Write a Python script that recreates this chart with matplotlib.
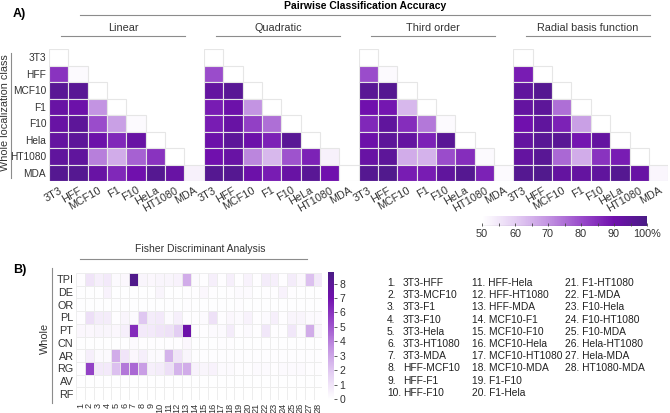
import numpy as np
import matplotlib
matplotlib.use('Agg')
import matplotlib.pyplot as plt
from matplotlib.colors import LinearSegmentedColormap, Normalize
from matplotlib.patches import Rectangle
from matplotlib.cm import ScalarMappable

plt.rcParams['font.family'] = ['Liberation Sans', 'DejaVu Sans']

# ---- data ----
cells = ['3T3', 'HFF', 'MCF10', 'F1', 'F10', 'Hela', 'HT1080', 'MDA']
cells_x = ['3T3', 'HFF', 'MCF10', 'F1', 'F10', 'HeLa', 'HT1080', 'MDA']
kernels = ['Linear', 'Quadratic', 'Third order', 'Radial basis function']

# lower triangle rows incl. diagonal (accuracy, %)
linear = [[50],
          [84, 51],
          [96, 96, 50],
          [92, 91, 70, 50],
          [92, 95, 80, 68, 51],
          [93, 95, 91, 86, 92, 50],
          [94, 94, 73, 66, 77, 84, 50],
          [97, 97, 92, 86, 90, 97, 92, 53]]
quadratic = [[50],
             [80, 50],
             [93, 96, 50],
             [88, 91, 70, 50],
             [88, 92, 82, 75, 50],
             [91, 95, 91, 87, 96, 50],
             [90, 92, 72, 64, 79, 87, 53],
             [97, 97, 91, 88, 92, 96, 90, 50]]
third = [[50],
         [80, 51],
         [96, 97, 50],
         [90, 89, 64, 50],
         [86, 94, 85, 74, 51],
         [91, 95, 93, 87, 96, 50],
         [92, 95, 66, 65, 80, 85, 51],
         [97, 98, 88, 88, 94, 97, 87, 51]]
rbf = [[50],
       [88, 50],
       [94, 97, 50],
       [93, 95, 75, 50],
       [90, 94, 87, 68, 50],
       [93, 96, 96, 89, 93, 50],
       [93, 96, 76, 66, 84, 88, 50],
       [97, 98, 93, 93, 94, 97, 92, 52]]

features = ['TPI', 'DE', 'OR', 'PL', 'PT', 'CN', 'AR', 'RG', 'AV', 'RF']
fda = [
    [0.1, 1.0, 0.6, 0.8, 0.2, 0.3, 8.5, 0.4, 0.3, 0.4, 0.4, 0.5, 2.8, 0.2, 0.1, 0.6, 0.1, 0.6, 0.1, 0.5, 0.1, 0.7, 0.6, 0.1, 0.7, 0.3, 2.2, 0.8],
    [0.05, 0.05, 0.05, 0.5, 0.05, 0.05, 0.05, 0.05, 0.05, 0.4, 0.05, 0.05, 0.1, 0.1, 0.3, 0.1, 0.05, 0.1, 0.2, 0.2, 0.05, 0.1, 0.1, 0.5, 0.1, 0.05, 0.05, 0.05],
    [0.05, 0.05, 0.05, 0.05, 0.05, 0.05, 0.05, 0.05, 0.05, 0.05, 0.05, 0.05, 0.1, 0.05, 0.05, 0.05, 0.05, 0.05, 0.1, 0.05, 0.05, 0.05, 0.05, 0.05, 0.05, 0.05, 0.05, 0.05],
    [0.1, 1.2, 0.7, 0.7, 0.1, 0.4, 0.2, 2.0, 0.7, 0.8, 0.2, 0.6, 0.1, 0.1, 0.2, 1.1, 0.1, 0.3, 0.2, 0.5, 0.1, 0.2, 0.6, 0.1, 0.4, 0.4, 0.2, 0.2],
    [0.3, 0.3, 0.4, 0.4, 0.3, 0.6, 6.2, 0.8, 0.8, 1.0, 1.1, 1.8, 7.2, 0.1, 0.1, 0.2, 0.2, 0.7, 0.1, 0.2, 0.1, 0.9, 0.1, 0.1, 0.9, 0.2, 2.8, 0.4],
    [0.05, 0.05, 0.05, 0.05, 0.05, 0.05, 0.2, 0.1, 0.1, 0.1, 0.1, 0.1, 0.3, 0.05, 0.05, 0.05, 0.1, 0.1, 0.05, 0.05, 0.05, 0.05, 0.05, 0.05, 0.05, 0.05, 0.05, 0.05],
    [0.1, 0.6, 0.2, 0.2, 2.8, 1.0, 0.3, 0.6, 0.2, 0.2, 2.6, 1.0, 0.4, 0.1, 0.1, 0.1, 0.1, 0.1, 0.1, 0.1, 0.1, 0.1, 0.1, 0.1, 0.1, 0.1, 0.1, 0.1],
    [0.1, 5.6, 0.8, 0.8, 2.2, 4.2, 4.6, 3.2, 0.6, 0.7, 1.2, 2.6, 2.8, 0.5, 0.4, 0.5, 0.2, 0.2, 0.1, 0.1, 0.2, 0.2, 0.1, 0.2, 0.2, 0.2, 0.1, 0.1],
    [0.05] * 28,
    [0.02] * 28,
]
pairs = ['3T3-HFF', '3T3-MCF10', '3T3-F1', '3T3-F10', '3T3-Hela', '3T3-HT1080',
         '3T3-MDA', 'HFF-MCF10', 'HFF-F1', 'HFF-F10', 'HFF-Hela', 'HFF-HT1080',
         'HFF-MDA', 'MCF10-F1', 'MCF10-F10', 'MCF10-Hela', 'MCF10-HT1080',
         'MCF10-MDA', 'F1-F10', 'F1-Hela', 'F1-HT1080', 'F1-MDA', 'F10-Hela',
         'F10-HT1080', 'F10-MDA', 'Hela-HT1080', 'Hela-MDA', 'HT1080-MDA']

# ---- style ----
cmap = LinearSegmentedColormap.from_list('purp', [
    (0.0, '#ffffff'), (0.2, '#e4cff3'), (0.4, '#c394e2'),
    (0.6, '#9a4ccb'), (0.8, '#7010ad'), (1.0, '#4a1c85')])
W, H = 670, 413
grid_col = '#e6e6e6'
line_col = '#8c8c8c'
txt_col = '#333333'


def fx(px):
    return px / W


def fy(py):
    return 1 - py / H


fig = plt.figure(figsize=(6.7, 4.13), dpi=100)

# ---- panel A: triangles ----
normA = Normalize(50, 100)
x0, cw = 49, 154.8
top, bot = 49, 181
for k, mat in enumerate([linear, quadratic, third, rbf]):
    ax = fig.add_axes([fx(x0 + k * cw), fy(bot), fx(cw), (bot - top) / H])
    for i, row in enumerate(mat):
        for j, v in enumerate(row):
            ax.add_patch(Rectangle((j, i), 1, 1, facecolor=cmap(normA(v)),
                                   edgecolor=grid_col, lw=0.8))
    ax.set_xlim(0, 8)
    ax.set_ylim(8, 0)
    ax.set_xticks(np.arange(8) + 0.5)
    ax.set_xticklabels(cells_x, rotation=30, ha='right', rotation_mode='anchor',
                       fontsize=7.8, color=txt_col)
    ax.tick_params(axis='x', length=0, pad=3)
    if k == 0:
        ax.set_yticks(np.arange(8) + 0.5)
        ax.set_yticklabels(cells, fontsize=7.3, color=txt_col)
        ax.tick_params(axis='y', length=0, pad=2)
    else:
        ax.set_yticks([])
    for s in ax.spines.values():
        s.set_visible(False)

caxA = fig.add_axes([fx(482), fy(226), fx(165), 10 / H])
cbA = fig.colorbar(ScalarMappable(normA, cmap), cax=caxA, orientation='horizontal')
cbA.outline.set_visible(False)
cbA.set_ticks([50, 60, 70, 80, 90, 100])
cbA.set_ticklabels(['50', '60', '70', '80', '90', '100%'])
caxA.set_xticks([55, 65, 75, 85, 95], minor=True)
caxA.tick_params(which='both', direction='in', length=2.5, width=0.6,
                 color='#444444', labelsize=7.8, labelcolor=txt_col, pad=2)
caxA.axhline(0, color='#444444', lw=0.8)

# ---- panel B: FDA heatmap ----
normB = Normalize(0, 8.8)
axB = fig.add_axes([fx(76.3), fy(400), fx(246), 127 / H])
for i, row in enumerate(fda):
    for j, v in enumerate(row):
        axB.add_patch(Rectangle((j, i), 1, 1, facecolor=cmap(normB(v)),
                                edgecolor='#ececec', lw=0.6))
axB.set_xlim(0, 28)
axB.set_ylim(10, 0)
axB.set_xticks(np.arange(28) + 0.5)
axB.set_xticklabels([str(n) for n in range(1, 29)], rotation=90, fontsize=6.6,
                    color=txt_col)
axB.set_yticks(np.arange(10) + 0.5)
axB.set_yticklabels(features, fontsize=7.8, color=txt_col)
axB.tick_params(length=0, pad=2)
for s in axB.spines.values():
    s.set_visible(False)

caxB = fig.add_axes([fx(328), fy(399), fx(6), 127 / H])
cbB = fig.colorbar(ScalarMappable(normB, cmap), cax=caxB)
cbB.outline.set_visible(False)
cbB.set_ticks(range(9))
caxB.tick_params(length=2, width=0.6, color='#444444', labelsize=7.5,
                 labelcolor=txt_col, pad=2)

# ---- annotations (pixel coordinates overlay) ----
ov = fig.add_axes([0, 0, 1, 1], zorder=-1)
ov.set_xlim(0, W)
ov.set_ylim(H, 0)
ov.axis('off')

ov.text(13, 14, 'A)', fontsize=9, fontweight='bold', va='center')
ov.text(13, 270, 'B)', fontsize=9, fontweight='bold', va='center')
ov.text(365, 6, 'Pairwise Classification Accuracy', fontsize=7.5,
        fontweight='bold', ha='center', va='center')
ov.plot([80, 650], [15, 15], color=line_col, lw=0.8)
for k, name in enumerate(kernels):
    c = x0 + k * cw + cw / 2 - 3
    ov.text(c, 28, name, fontsize=7.8, ha='center', va='center', color=txt_col)
    ov.plot([c - 62, c + 62], [36, 36], color=line_col, lw=0.8)

ov.text(5, 113, 'Whole localization class', fontsize=7.8, rotation=90,
        ha='center', va='center', color=txt_col)
ov.plot([11, 11], [53, 178], color=line_col, lw=0.8)

ov.text(200, 249, 'Fisher Discriminant Analysis', fontsize=7.5, ha='center',
        va='center', color=txt_col)
ov.plot([80, 307], [259, 259], color=line_col, lw=0.8)
ov.text(45, 338, 'Whole', fontsize=7.8, rotation=90, ha='center', va='center',
        color=txt_col)
ov.plot([52, 52], [268, 403], color=line_col, lw=0.8)

# pair legend
col_x = [387, 472, 565]
for n, name in enumerate(pairs):
    c, r = divmod(n, 10)
    y = 283 + r * 12.2
    if c == 0:
        ov.text(col_x[0], y, f'{n + 1}.', fontsize=7.4, va='center', color='#222222')
        ov.text(col_x[0] + 16, y, name, fontsize=7.4, va='center', color='#222222')
    else:
        ov.text(col_x[c], y, f'{n + 1}. {name}', fontsize=7.4, va='center',
                color='#222222')

fig.savefig('out.png', dpi=100)
